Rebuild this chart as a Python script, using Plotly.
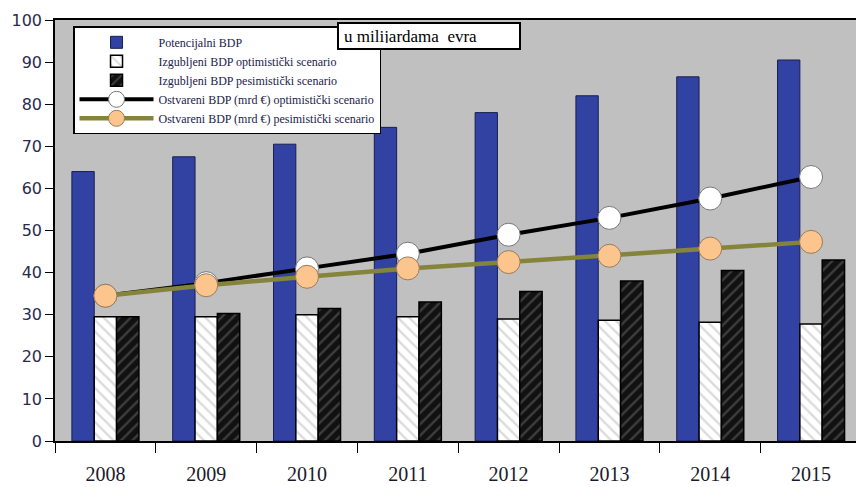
import plotly.graph_objects as go

years = ["2008", "2009", "2010", "2011", "2012", "2013", "2014", "2015"]
potencijalni = [64, 67.5, 70.5, 74.5, 78, 82, 86.5, 90.5]
izgubljeni_opt = [29.5, 29.5, 30, 29.5, 29, 28.7, 28.2, 27.8]
izgubljeni_pes = [29.5, 30.3, 31.5, 33, 35.5, 38, 40.5, 43]
ostvareni_opt = [34.5, 37.5, 41, 44.5, 49, 53, 57.6, 62.7]
ostvareni_pes = [34.5, 37, 39, 41, 42.5, 44, 45.7, 47.3]
yticks = [0, 10, 20, 30, 40, 50, 60, 70, 80, 90, 100]

serif = "Liberation Serif"
fig = go.Figure()
fig.add_trace(go.Bar(x=years, y=potencijalni, name="Potencijalni BDP",
                     marker=dict(color="#3142a3", line=dict(color="#1a1f50", width=1))))
fig.add_trace(go.Bar(x=years, y=izgubljeni_opt, name="Izgubljeni BDP optimistički scenario",
                     marker=dict(color="white", line=dict(color="black", width=1.5),
                                 pattern=dict(shape="\\", fgcolor="#b8b8b8", bgcolor="white",
                                              size=8, solidity=0.3))))
fig.add_trace(go.Bar(x=years, y=izgubljeni_pes, name="Izgubljeni BDP pesimistički scenario",
                     marker=dict(color="black", line=dict(color="black", width=1.5),
                                 pattern=dict(shape="/", fgcolor="#6a6a6a", bgcolor="#111111",
                                              size=8, solidity=0.3))))
fig.add_trace(go.Scatter(x=years, y=ostvareni_opt, name="Ostvareni BDP (mrd €) optimistički scenario",
                         mode="lines+markers", line=dict(color="black", width=4),
                         marker=dict(size=23, color="white", line=dict(color="#777777", width=1))))
fig.add_trace(go.Scatter(x=years, y=ostvareni_pes, name="Ostvareni BDP (mrd €) pesimistički scenario",
                         mode="lines+markers", line=dict(color="#84843a", width=4.5),
                         marker=dict(size=23, color="#fcc58e", line=dict(color="#9a7a5a", width=1))))

fig.add_annotation(text="u milijardama  evra", xref="paper", yref="paper",
                   x=0.352, y=0.995, xanchor="left", yanchor="top",
                   showarrow=False, align="left", width=170, height=14,
                   font=dict(family=serif, size=17, color="black"),
                   bgcolor="white", bordercolor="black", borderwidth=2, borderpad=5)

fig.update_layout(
    width=856, height=487,
    margin=dict(l=55, r=0, t=20, b=46),
    paper_bgcolor="white", plot_bgcolor="#c0c0c0",
    barmode="group", bargap=0.335, bargroupgap=0,
    showlegend=True,
    legend=dict(x=0.0225, y=0.985, xanchor="left", yanchor="top",
                bgcolor="white", bordercolor="black", borderwidth=1.5,
                font=dict(family=serif, size=12, color="#22224a"),
                itemwidth=74, tracegroupgap=0, traceorder="normal"),
    xaxis=dict(type="category", range=[-0.5, 7.446], showline=True, linecolor="black",
               linewidth=1.5, mirror=True, ticks="outside", tickson="boundaries",
               ticklen=10, tickcolor="black", showgrid=False,
               tickfont=dict(family=serif, size=20, color="#1a1a2a"), ticklabelstandoff=14),
    yaxis=dict(range=[0, 100], tickvals=yticks, showline=True, linecolor="black",
               linewidth=1.5, ticks="outside", ticklen=8, tickcolor="black",
               showgrid=False, zeroline=False,
               tickfont=dict(family="DejaVu Sans", size=16, color="#2a2a50")),
)
fig.write_html("out.html")
